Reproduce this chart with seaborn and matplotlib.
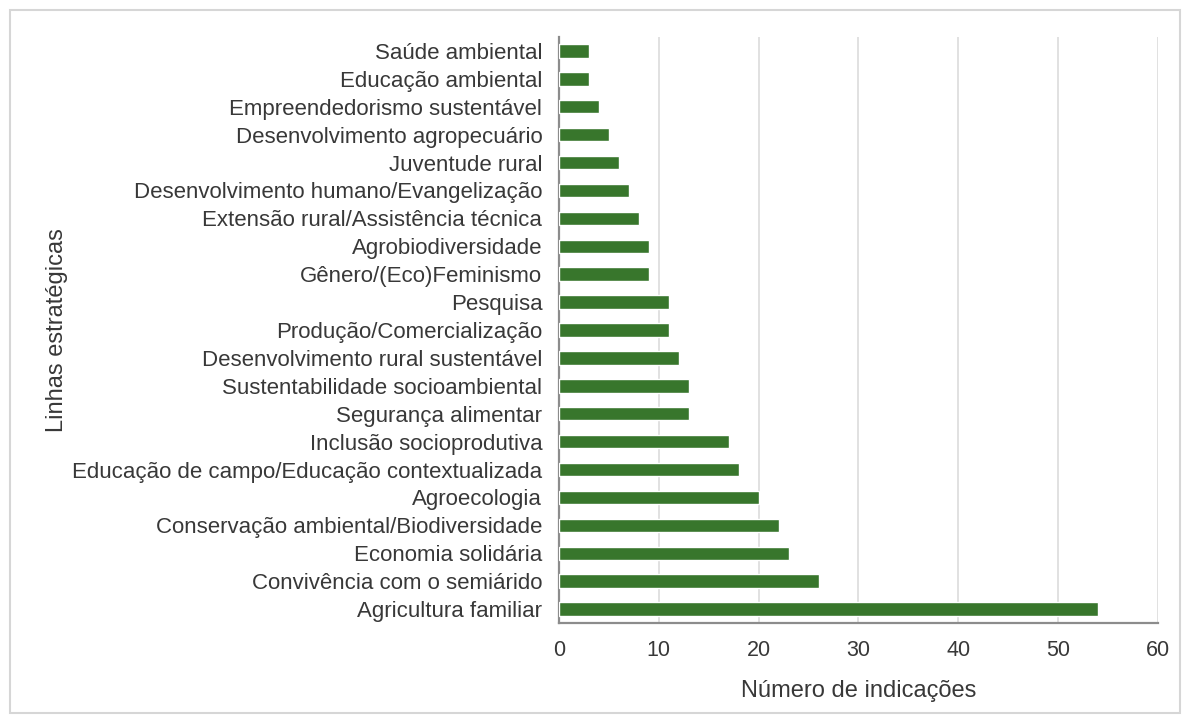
import matplotlib
matplotlib.use("Agg")
import matplotlib.pyplot as plt
from matplotlib.patches import Rectangle
import seaborn as sns
import pandas as pd

categories = [
    "Saúde ambiental",
    "Educação ambiental",
    "Empreendedorismo sustentável",
    "Desenvolvimento agropecuário",
    "Juventude rural",
    "Desenvolvimento humano/Evangelização",
    "Extensão rural/Assistência técnica",
    "Agrobiodiversidade",
    "Gênero/(Eco)Feminismo",
    "Pesquisa",
    "Produção/Comercialização",
    "Desenvolvimento rural sustentável",
    "Sustentabilidade socioambiental",
    "Segurança alimentar",
    "Inclusão socioprodutiva",
    "Educação de campo/Educação contextualizada",
    "Agroecologia",
    "Conservação ambiental/Biodiversidade",
    "Economia solidária",
    "Convivência com o semiárido",
    "Agricultura familiar",
]
indicacoes = [3, 3, 4, 5, 6, 7, 8, 9, 9, 11, 11, 12, 13, 13, 17, 18, 20, 22, 23, 26, 54]
x_ticks = [0, 10, 20, 30, 40, 50, 60]

df = pd.DataFrame({"linha": categories, "n": indicacoes})

sns.set_theme(style="white")
plt.rcParams["font.family"] = ["Liberation Sans", "DejaVu Sans"]

text_color = "#383838"
fig = plt.figure(figsize=(11.88, 7.22), dpi=100)
ax = fig.add_axes([0.4705, 0.1371, 0.5042, 0.8117])

sns.barplot(data=df, x="n", y="linha", orient="h", color="#38762c",
            saturation=1, width=0.48, ax=ax, zorder=3)

ax.set_xlim(0, 60)
ax.set_ylim(20.5, -0.5)
ax.set_xticks(x_ticks)
ax.xaxis.grid(True, color="#dcdcdc", linewidth=1.2, zorder=0)
ax.set_axisbelow(True)
for side in ("top", "right"):
    ax.spines[side].set_visible(False)
for side in ("left", "bottom"):
    ax.spines[side].set_color("#8c8c8c")
    ax.spines[side].set_linewidth(1.6)
ax.tick_params(axis="both", length=0, labelsize=15.5, colors=text_color)
ax.tick_params(axis="y", labelsize=16)
ax.tick_params(axis="x", pad=12)
ax.tick_params(axis="y", pad=12)

ax.set_xlabel("Número de indicações", fontsize=17, color=text_color, labelpad=14)
ax.set_ylabel("Linhas estratégicas", fontsize=17, color=text_color)
ax.yaxis.set_label_coords(-0.82, 0.5)

fig.patches.append(Rectangle((0.008, 0.013), 0.985, 0.973, transform=fig.transFigure,
                             fill=False, edgecolor="#d6d6d6", linewidth=1.5))

fig.savefig("out.png", dpi=100, facecolor="white")
